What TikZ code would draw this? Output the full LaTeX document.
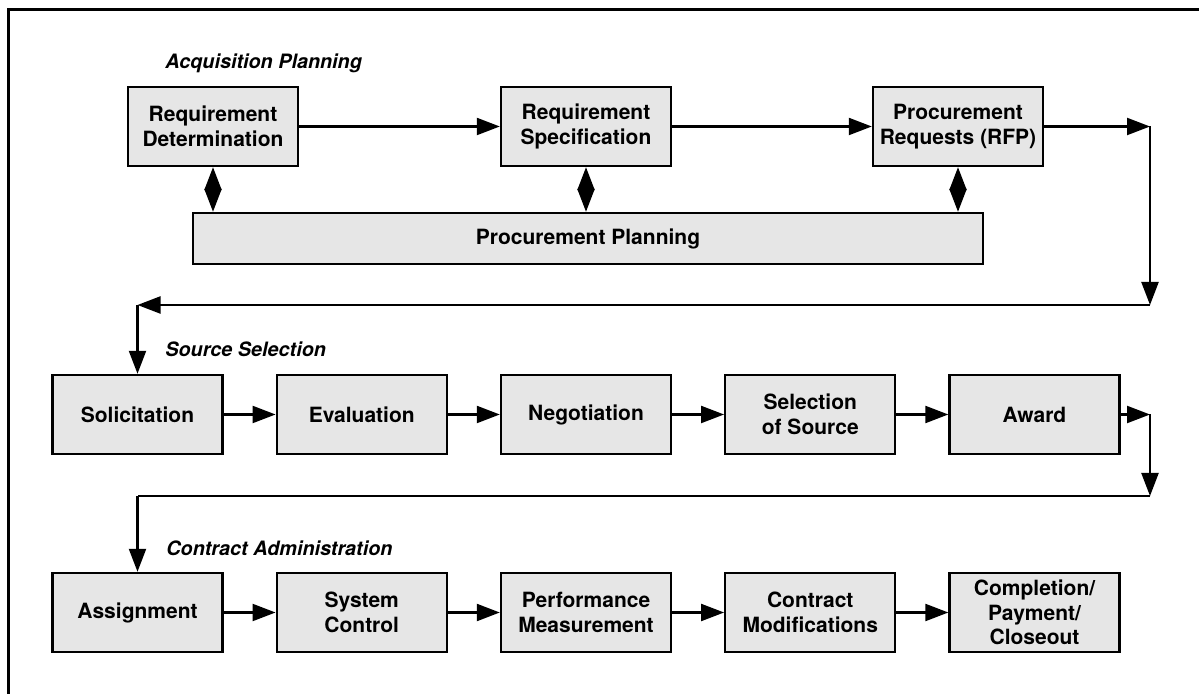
\documentclass[tikz,border=0pt]{standalone}
\usepackage{fontspec}
\setmainfont{TeX Gyre Heros}
\usepackage{xcolor}
\usetikzlibrary{arrows.meta}
\definecolor{stagegray}{HTML}{E6E6E6}

\begin{document}
\begin{tikzpicture}[
    x=0.5pt, y=-0.5pt,
    >={Triangle[length=11.5pt,width=8.5pt]},
    every node/.style={
        font=\fontsize{10.5}{12.4}\selectfont\bfseries
    },
    stage/.style={
        draw,
        line width=1.2pt,
        fill=stagegray,
        align=center,
        minimum width=85pt,
        minimum height=39.5pt,
        inner sep=2pt
    },
    phase/.style={
        font=\fontsize{9.9}{12}\selectfont\bfseries\itshape,
        anchor=base west,
        inner sep=0pt
    },
    flow/.style={->, line width=1.1pt},
    link/.style={<->, line width=1.1pt}
]

\useasboundingbox (0,0) rectangle (1199,694);

% ============================================================
% Frame
% ============================================================

\draw[line width=1.5pt] (8,694) |- (1199,10);

% ============================================================
% Acquisition planning
% ============================================================

\node[phase] (acq) at (165,69) {Acquisition Planning};

\node[stage] (det) at (213,126.5)
    {Requirement\\Determination};

\node[stage] (spec) at (586,126.5)
    {Requirement\\Specification};

\node[stage] (preq) at (958,126.5)
    {Procurement\\Requests (RFP)};

\node[stage, minimum width=395pt, minimum height=25.5pt] (plan) at (588,238.5)
    {Procurement Planning};

\draw[flow] (det) -- (spec);
\draw[flow] (spec) -- (preq);

\draw[link] (det.south) -- (det.south |- plan.north);
\draw[link] (spec.south) -- (spec.south |- plan.north);
\draw[link] (preq.south) -- (preq.south |- plan.north);

% ============================================================
% Turn down to source selection
% ============================================================

\coordinate (ra) at (1150,126.5);
\coordinate (rb) at (1150,305);
\coordinate (rc) at (137.5,305);

\draw[flow] (preq) -- (ra);
\draw[flow] (ra) -- (rb);
\draw[flow] (rb) -- (rc);

% ============================================================
% Source selection
% ============================================================

\node[phase] (src) at (165,357) {Source Selection};

\node[stage] (sol) at (137.5,414.5) {Solicitation};
\node[stage] (eval) at (361.75,414.5) {Evaluation};
\node[stage] (nego) at (586,414.5) {Negotiation};
\node[stage] (sel) at (810.25,414.5) {Selection\\of Source};
\node[stage] (award) at (1034.5,414.5) {Award};

\draw[flow] (rc) -- (sol);
\draw[flow] (sol) -- (eval);
\draw[flow] (eval) -- (nego);
\draw[flow] (nego) -- (sel);
\draw[flow] (sel) -- (award);

% ============================================================
% Turn down to contract administration
% ============================================================

\coordinate (sa) at (1150,414.5);
\coordinate (sb) at (1150,496);
\coordinate (sc) at (137.5,496);

\draw[flow] (award) -- (sa);
\draw[flow] (sa) -- (sb);
\draw[line width=1.1pt] (sb) -- (sc);

% ============================================================
% Contract administration
% ============================================================

\node[phase] (adm) at (166,556) {Contract Administration};

\node[stage] (assign) at (137.5,612.5) {Assignment};
\node[stage] (ctrl) at (361.75,612.5) {System\\Control};
\node[stage] (perf) at (586,612.5) {Performance\\Measurement};
\node[stage] (mods) at (810.25,612.5) {Contract\\Modifications};
\node[stage] (close) at (1034.5,612.5) {Completion/\\Payment/\\Closeout};

\draw[flow] (sc) -- (assign);
\draw[flow] (assign) -- (ctrl);
\draw[flow] (ctrl) -- (perf);
\draw[flow] (perf) -- (mods);
\draw[flow] (mods) -- (close);

\end{tikzpicture}
\end{document}
